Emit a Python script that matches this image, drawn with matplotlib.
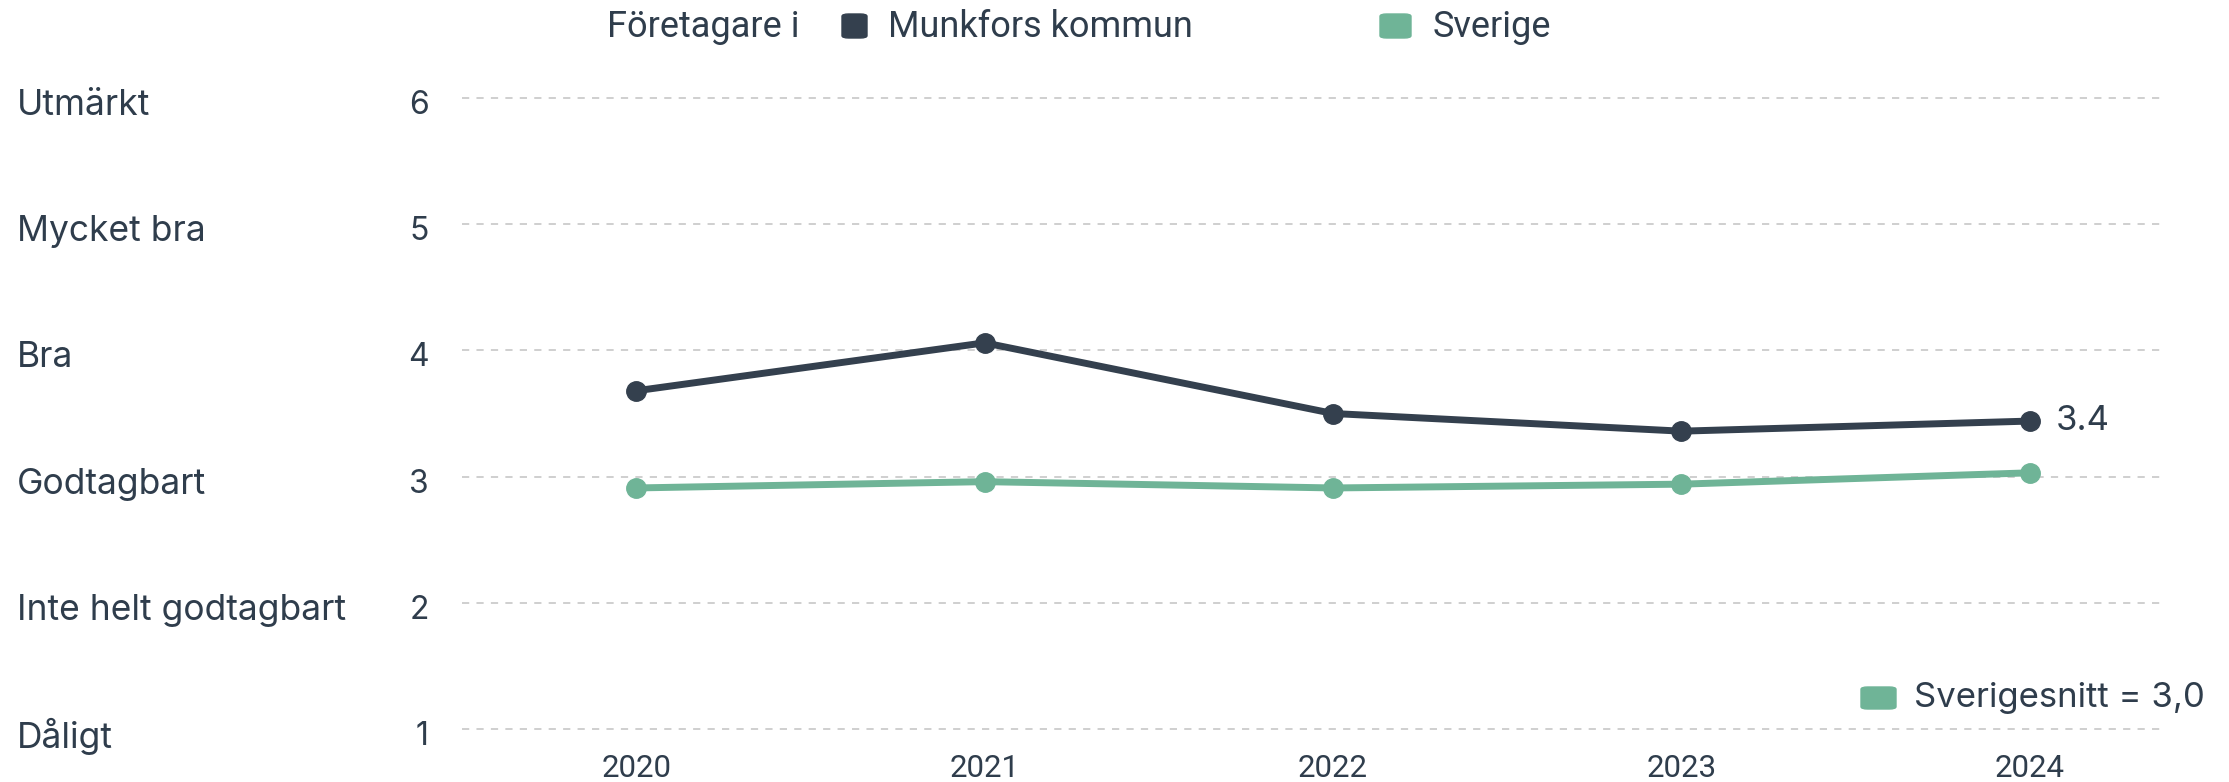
import matplotlib
matplotlib.use("Agg")
import matplotlib.pyplot as plt
import matplotlib.transforms as mtransforms
from matplotlib.patches import FancyBboxPatch

years = [2020, 2021, 2022, 2023, 2024]
munkfors = [3.68, 4.06, 3.50, 3.36, 3.44]
sverige = [2.91, 2.96, 2.91, 2.94, 3.03]
scale_values = [1, 2, 3, 4, 5, 6]
scale_names = ['Dåligt', 'Inte helt godtagbart', 'Godtagbart', 'Bra', 'Mycket bra', 'Utmärkt']
sverige_avg = '3,0'
last_label = '3.4'

DARK = '#34404e'
GREEN = '#6fb497'
TXT = '#2f3d4c'
GRID = '#cccccc'

plt.rcParams['font.family'] = ['Inter', 'DejaVu Sans']

W, H = 2229, 782
fig = plt.figure(figsize=(W / 100, H / 100), dpi=100)
ax = fig.add_axes([462 / W, 1 - 729 / H, (2164 - 462) / W, (729 - 98) / H])

ax.set_xlim(2019.5, 2024.385)
ax.set_ylim(1, 6)

for v in scale_values:
    ax.axhline(v, color=GRID, lw=1.3, ls=(0, (4, 4)), zorder=1, clip_on=False)

ax.plot(years, sverige, color=GREEN, lw=5, marker='o', ms=14, zorder=3, clip_on=False)
ax.plot(years, munkfors, color=DARK, lw=5, marker='o', ms=14, zorder=4, clip_on=False)

ax.annotate(last_label, (years[-1], munkfors[-1]), xytext=(19, 0), textcoords='offset points',
            va='center', ha='left', fontsize=25, color=TXT)

for s in ax.spines.values():
    s.set_visible(False)
ax.set_yticks(scale_values)
ax.set_yticklabels([str(v) for v in scale_values], fontsize=23, color=TXT, va='center_baseline')
ax.set_xticks(years)
ax.set_xticklabels([str(y) for y in years], fontsize=22.5, color=TXT, family=['Roboto', 'DejaVu Sans'])
ax.tick_params(axis='y', length=0, pad=24)
ax.tick_params(axis='x', length=0, pad=18)

# nudge the left-hand texts a few pixels down
down = mtransforms.ScaledTranslation(0, -4 / 100, fig.dpi_scale_trans)
for lab in ax.get_yticklabels():
    lab.set_transform(lab.get_transform() + down)

# category names at far left
tr = mtransforms.blended_transform_factory(fig.transFigure, ax.transData) + down
for v, name in zip(scale_values, scale_names):
    ax.text(17 / W, v, name, transform=tr, ha='left', va='center_baseline',
            fontsize=25.5, color=TXT)

# top legend
fig.text(607 / W, 1 - 27 / H, 'Företagare i', ha='left', va='center', fontsize=26,
         color=TXT, family=['Roboto', 'DejaVu Sans'])
fig.patches.append(FancyBboxPatch((842 / W, 1 - 38 / H), 25 / W, 24 / H,
                                  boxstyle='round,pad=0,rounding_size=0.003',
                                  transform=fig.transFigure, color=DARK))
fig.text(888 / W, 1 - 27 / H, 'Munkfors kommun', ha='left', va='center', fontsize=26,
         color=TXT, family=['Roboto', 'DejaVu Sans'])
fig.patches.append(FancyBboxPatch((1380 / W, 1 - 38 / H), 31 / W, 24 / H,
                                  boxstyle='round,pad=0,rounding_size=0.003',
                                  transform=fig.transFigure, color=GREEN))
fig.text(1433 / W, 1 - 27 / H, 'Sverige', ha='left', va='center', fontsize=26,
         color=TXT, family=['Roboto', 'DejaVu Sans'])

# bottom right legend
fig.patches.append(FancyBboxPatch((1861 / W, 1 - 709 / H), 35 / W, 22 / H,
                                  boxstyle='round,pad=0,rounding_size=0.003',
                                  transform=fig.transFigure, color=GREEN))
fig.text(1914 / W, 1 - 698 / H, 'Sverigesnitt = ' + sverige_avg, ha='left', va='center',
         fontsize=25, color=TXT)

fig.savefig('out.png', dpi=100)
